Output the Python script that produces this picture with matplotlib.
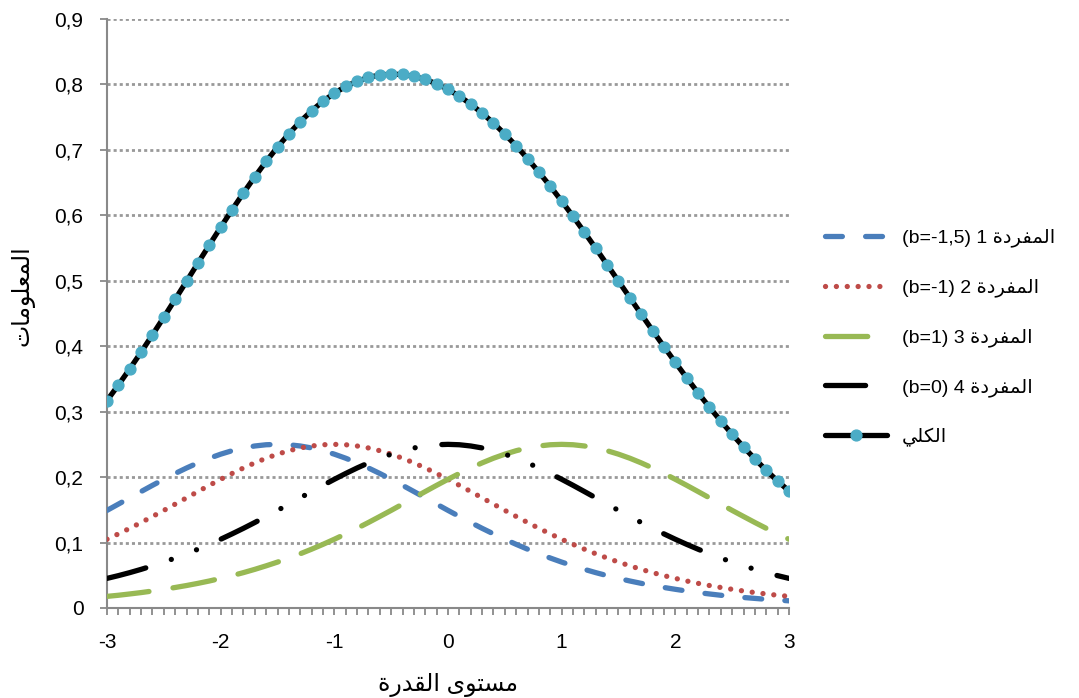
import matplotlib
matplotlib.use("Agg")
import matplotlib.pyplot as plt

# مستوى القدرة (theta) من -3 إلى 3
theta = [-3.0, -2.9, -2.8, -2.7, -2.6, -2.5, -2.4, -2.3, -2.2, -2.1,
         -2.0, -1.9, -1.8, -1.7, -1.6, -1.5, -1.4, -1.3, -1.2, -1.1,
         -1.0, -0.9, -0.8, -0.7, -0.6, -0.5, -0.4, -0.3, -0.2, -0.1,
         0.0, 0.1, 0.2, 0.3, 0.4, 0.5, 0.6, 0.7, 0.8, 0.9,
         1.0, 1.1, 1.2, 1.3, 1.4, 1.5, 1.6, 1.7, 1.8, 1.9,
         2.0, 2.1, 2.2, 2.3, 2.4, 2.5, 2.6, 2.7, 2.8, 2.9, 3.0]

# المفردة 1 (b=-1,5)
item1 = [0.1491, 0.1587, 0.1683, 0.1779, 0.1874, 0.1966, 0.2055, 0.2139, 0.2217, 0.2288,
         0.2350, 0.2403, 0.2445, 0.2475, 0.2494, 0.2500, 0.2494, 0.2475, 0.2445, 0.2403,
         0.2350, 0.2288, 0.2217, 0.2139, 0.2055, 0.1966, 0.1874, 0.1779, 0.1683, 0.1587,
         0.1491, 0.1398, 0.1306, 0.1217, 0.1132, 0.1050, 0.0972, 0.0898, 0.0828, 0.0763,
         0.0701, 0.0644, 0.0590, 0.0540, 0.0494, 0.0452, 0.0412, 0.0376, 0.0343, 0.0313,
         0.0285, 0.0259, 0.0235, 0.0214, 0.0194, 0.0177, 0.0160, 0.0146, 0.0132, 0.0120, 0.0109]

# المفردة 2 (b=-1)
item2 = [0.1050, 0.1132, 0.1217, 0.1306, 0.1398, 0.1491, 0.1587, 0.1683, 0.1779, 0.1874,
         0.1966, 0.2055, 0.2139, 0.2217, 0.2288, 0.2350, 0.2403, 0.2445, 0.2475, 0.2494,
         0.2500, 0.2494, 0.2475, 0.2445, 0.2403, 0.2350, 0.2288, 0.2217, 0.2139, 0.2055,
         0.1966, 0.1874, 0.1779, 0.1683, 0.1587, 0.1491, 0.1398, 0.1306, 0.1217, 0.1132,
         0.1050, 0.0972, 0.0898, 0.0828, 0.0763, 0.0701, 0.0644, 0.0590, 0.0540, 0.0494,
         0.0452, 0.0412, 0.0376, 0.0343, 0.0313, 0.0285, 0.0259, 0.0235, 0.0214, 0.0194, 0.0177]

# المفردة 3 (b=1)
item3 = [0.0177, 0.0194, 0.0214, 0.0235, 0.0259, 0.0285, 0.0313, 0.0343, 0.0376, 0.0412,
         0.0452, 0.0494, 0.0540, 0.0590, 0.0644, 0.0701, 0.0763, 0.0828, 0.0898, 0.0972,
         0.1050, 0.1132, 0.1217, 0.1306, 0.1398, 0.1491, 0.1587, 0.1683, 0.1779, 0.1874,
         0.1966, 0.2055, 0.2139, 0.2217, 0.2288, 0.2350, 0.2403, 0.2445, 0.2475, 0.2494,
         0.2500, 0.2494, 0.2475, 0.2445, 0.2403, 0.2350, 0.2288, 0.2217, 0.2139, 0.2055,
         0.1966, 0.1874, 0.1779, 0.1683, 0.1587, 0.1491, 0.1398, 0.1306, 0.1217, 0.1132, 0.1050]

# المفردة 4 (b=0)
item4 = [0.0452, 0.0494, 0.0540, 0.0590, 0.0644, 0.0701, 0.0763, 0.0828, 0.0898, 0.0972,
         0.1050, 0.1132, 0.1217, 0.1306, 0.1398, 0.1491, 0.1587, 0.1683, 0.1779, 0.1874,
         0.1966, 0.2055, 0.2139, 0.2217, 0.2288, 0.2350, 0.2403, 0.2445, 0.2475, 0.2494,
         0.2500, 0.2494, 0.2475, 0.2445, 0.2403, 0.2350, 0.2288, 0.2217, 0.2139, 0.2055,
         0.1966, 0.1874, 0.1779, 0.1683, 0.1587, 0.1491, 0.1398, 0.1306, 0.1217, 0.1132,
         0.1050, 0.0972, 0.0898, 0.0828, 0.0763, 0.0701, 0.0644, 0.0590, 0.0540, 0.0494, 0.0452]

# الكلي
total = [0.3170, 0.3407, 0.3654, 0.3910, 0.4175, 0.4443, 0.4718, 0.4993, 0.5270, 0.5546,
         0.5818, 0.6084, 0.6341, 0.6588, 0.6824, 0.7042, 0.7247, 0.7431, 0.7597, 0.7743,
         0.7866, 0.7969, 0.8048, 0.8107, 0.8144, 0.8157, 0.8152, 0.8124, 0.8076, 0.8010,
         0.7923, 0.7821, 0.7699, 0.7562, 0.7410, 0.7241, 0.7061, 0.6866, 0.6659, 0.6444,
         0.6217, 0.5984, 0.5742, 0.5496, 0.5247, 0.4994, 0.4742, 0.4489, 0.4239, 0.3994,
         0.3753, 0.3517, 0.3288, 0.3068, 0.2857, 0.2654, 0.2461, 0.2277, 0.2103, 0.1940, 0.1788]

x_ticks = [-3, -2, -1, 0, 1, 2, 3]
x_labels = ["-3", "-2", "-1", "0", "1", "2", "3"]
y_ticks = [0, 0.1, 0.2, 0.3, 0.4, 0.5, 0.6, 0.7, 0.8, 0.9]
y_labels = ["0", "0,1", "0,2", "0,3", "0,4", "0,5", "0,6", "0,7", "0,8", "0,9"]

# النصوص العربية بأشكال العرض (ترتيب مرئي لأن matplotlib لا يشكّل العربية)
mufrada = "\ufe93\ufea9\ufeae\ufed4\ufee4\ufedf\ufe8d"            # المفردة
labels = ["(b=-1,5) 1 " + mufrada,
          "(b=-1) 2 " + mufrada,
          "(b=1) 3 " + mufrada,
          "(b=0) 4 " + mufrada,
          "\ufef2\ufee0\ufedc\ufedf\ufe8d"]                          # الكلي
x_title = "\ufe93\ufead\ufeaa\ufed8\ufedf\ufe8d \ufeef\ufeee\ufe98\ufeb4\ufee3"   # مستوى القدرة
y_title = "\ufe95\ufe8e\ufee3\ufeee\ufee0\ufecc\ufee4\ufedf\ufe8d"              # المعلومات

plt.rcParams["font.family"] = ["Liberation Sans", "DejaVu Sans"]

fig = plt.figure(figsize=(10.79, 6.98), dpi=100)
ax = fig.add_axes([0.0992, 0.129, 0.632, 0.8438])

lw = 3.8
ax.plot(theta, item1, color="#4A7EBB", lw=lw, dash_capstyle="round",
        linestyle=(0, (3.2, 4.4)), label=labels[0], zorder=3)
ax.plot(theta, item2, color="#BE4B48", lw=lw, dash_capstyle="round",
        linestyle=(0, (0.01, 2.05)), label=labels[1], zorder=3)
ax.plot(theta, item3, color="#98B954", lw=lw, dash_capstyle="round",
        linestyle=(0, (8.0, 4.6)), label=labels[2], zorder=3)
ax.plot(theta, item4, color="black", lw=lw, dash_capstyle="round",
        linestyle=(0, (7.6, 5.1, 0.01, 5.1, 0.01, 5.1)), label=labels[3], zorder=3)
ax.plot(theta, total, color="black", lw=lw, solid_capstyle="round",
        marker="o", markersize=7.8, markerfacecolor="#4BACC6",
        markeredgecolor="#4BACC6", label=labels[4], zorder=4)

ax.set_xlim(-3, 3)
ax.set_ylim(0, 0.9)
ax.set_xticks(x_ticks)
ax.set_xticklabels(x_labels)
ax.set_xticks(theta, minor=True)
ax.set_yticks(y_ticks)
ax.set_yticklabels(y_labels)

ax.grid(axis="y", color="#999999", linestyle=(0, (1.1, 1.1)), lw=2.0, zorder=1)
for s in ["top", "right"]:
    ax.spines[s].set_visible(False)
for s in ["left", "bottom"]:
    ax.spines[s].set_color("#898989")
    ax.spines[s].set_linewidth(1.5)
    ax.spines[s].set_zorder(2)

ax.tick_params(axis="x", which="both", direction="out", length=5, width=1.3,
               color="#898989", labelsize=15, pad=13)
ax.tick_params(axis="y", direction="out", length=5, width=1.3,
               color="#898989", labelsize=15, pad=12)

ax.set_xlabel(x_title, fontsize=17, labelpad=15)
ax.set_ylabel(y_title, fontsize=17)
ax.yaxis.set_label_coords(-0.106, 0.53)

ax.legend(loc="center left", bbox_to_anchor=(0.7646, 0.516),
          bbox_transform=fig.transFigure, frameon=False, fontsize=14,
          handlelength=3.2, handletextpad=0.75, labelspacing=1.6,
          borderpad=0, borderaxespad=0, numpoints=1)

fig.savefig("out.png", dpi=100)
